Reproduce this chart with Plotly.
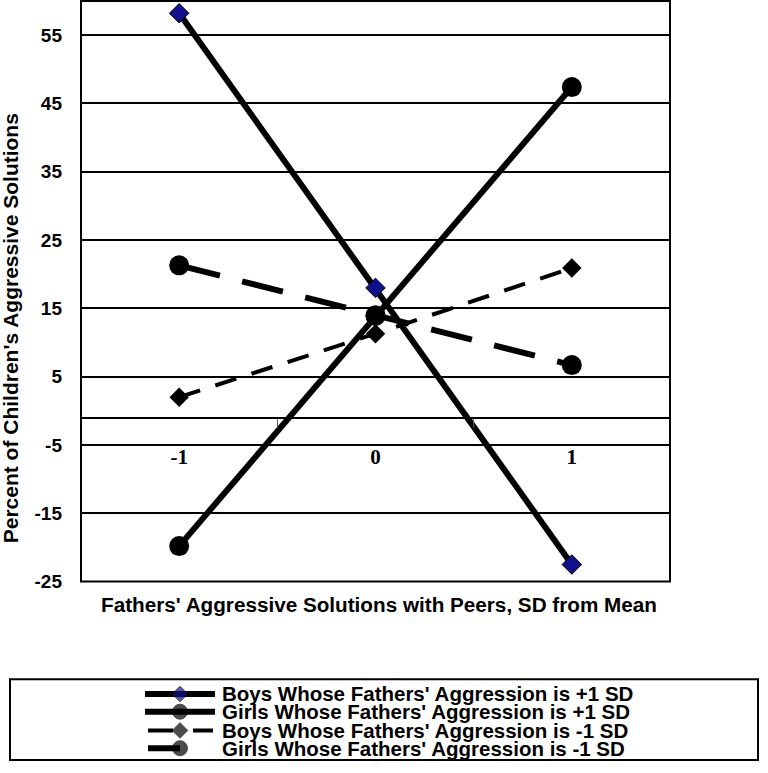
import plotly.graph_objects as go

categories = ['-1', '0', '1']
boys_plus = [58.2, 18.0, -22.5]
girls_plus = [-19.8, 13.9, 47.4]
boys_minus = [2.0, 11.3, 20.9]
girls_minus = [21.3, 14.0, 6.7]
legend_labels = [
    "Boys Whose Fathers' Aggression is +1 SD",
    "Girls Whose Fathers' Aggression is +1 SD",
    "Boys Whose Fathers' Aggression is -1 SD",
    "Girls Whose Fathers' Aggression is -1 SD",
]
y_ticks = [-25, -15, -5, 5, 15, 25, 35, 45, 55]
y_tick_text = ['-25', '-15', '-5', '5', '15', '25', '35', '45', '55']

W, H = 768, 773
SANS = "Liberation Sans, Arial, sans-serif"
SERIF = "Liberation Serif, Times New Roman, serif"
NAVY = "#10108a"

fig = go.Figure()

fig.add_trace(go.Scatter(x=categories, y=girls_minus, mode='lines+markers',
                         line=dict(color='black', width=6, dash='42px,23px'),
                         marker=dict(symbol='circle', size=20, color='black'),
                         showlegend=False, xaxis='x', yaxis='y'))
fig.add_trace(go.Scatter(x=categories, y=boys_minus, mode='lines+markers',
                         line=dict(color='black', width=4, dash='22px,16px'),
                         marker=dict(symbol='diamond', size=15, color='black'),
                         showlegend=False, xaxis='x', yaxis='y'))
fig.add_trace(go.Scatter(x=categories, y=girls_plus, mode='lines+markers',
                         line=dict(color='black', width=6),
                         marker=dict(symbol='circle', size=20, color='black'),
                         showlegend=False, xaxis='x', yaxis='y'))
fig.add_trace(go.Scatter(x=categories, y=boys_plus, mode='lines+markers',
                         line=dict(color='black', width=6),
                         marker=dict(symbol='diamond', size=15, color=NAVY,
                                     line=dict(color='black', width=1)),
                         showlegend=False, xaxis='x', yaxis='y'))

# manual legend drawn on a helper axis pair in pixel units
ly = [704, 722, 741, 759]
fig.add_trace(go.Scatter(x=[145, 215], y=[ly[0], ly[0]], mode='lines',
                         line=dict(color='black', width=6), showlegend=False,
                         xaxis='x2', yaxis='y2', hoverinfo='skip'))
fig.add_trace(go.Scatter(x=[145, 215], y=[ly[1], ly[1]], mode='lines',
                         line=dict(color='black', width=6), showlegend=False,
                         xaxis='x2', yaxis='y2', hoverinfo='skip'))
fig.add_trace(go.Scatter(x=[148, 213], y=[ly[2], ly[2]], mode='lines',
                         line=dict(color='black', width=4, dash='25px,20px'), showlegend=False,
                         xaxis='x2', yaxis='y2', hoverinfo='skip'))
fig.add_trace(go.Scatter(x=[148, 180], y=[ly[3], ly[3]], mode='lines',
                         line=dict(color='black', width=6), showlegend=False,
                         xaxis='x2', yaxis='y2', hoverinfo='skip'))
fig.add_trace(go.Scatter(x=[180, 180, 180, 180], y=ly, mode='markers',
                         marker=dict(symbol=['diamond', 'circle', 'diamond', 'circle'],
                                     size=[12, 15, 12, 15],
                                     color=[NAVY, 'black', 'black', 'black'],
                                     line=dict(color='black', width=1)),
                         showlegend=False, xaxis='x2', yaxis='y2', hoverinfo='skip'))

x0p, x1p = 81, 670
y0p, y1p = 590, 1
ymin, ymax = -25, 60
ydom = [(H - y0p) / H, (H - y1p) / H]
axis_val = -1
xpos = ydom[0] + (axis_val - ymin) / (ymax - ymin) * (ydom[1] - ydom[0])

annotations = []
for i, t in enumerate(legend_labels):
    annotations.append(dict(x=220, y=ly[i], xref='x2', yref='y2', text=t, showarrow=False,
                            xanchor='left', yanchor='middle',
                            font=dict(family=SANS, size=20.5, color='black', weight='bold')))
annotations.append(dict(x=378.5 / W, y=(H - 613) / H, xref='paper', yref='paper',
                        text="Fathers' Aggressive Solutions with Peers, SD from Mean",
                        showarrow=False, xanchor='center', yanchor='middle',
                        font=dict(family=SANS, size=20.7, color='black', weight='bold')))
annotations.append(dict(x=10 / W, y=(H - 333) / H, xref='paper', yref='paper',
                        text="Percent of Children's Aggressive Solutions", textangle=-90,
                        showarrow=False, xanchor='center', yanchor='middle',
                        font=dict(family=SANS, size=21, color='black', weight='bold')))

shapes = [
    dict(type='rect', xref='x domain', yref='y domain', x0=0, x1=1, y0=0, y1=1,
         line=dict(color='black', width=2), layer='above'),
    dict(type='rect', xref='paper', yref='paper', x0=10 / W, x1=758 / W,
         y0=(H - 771) / H, y1=(H - 689) / H, line=dict(color='black', width=2)),
]

fig.update_layout(
    width=W, height=H,
    margin=dict(l=0, r=0, t=0, b=0),
    paper_bgcolor='white', plot_bgcolor='white',
    xaxis=dict(type='category', domain=[x0p / W, x1p / W], range=[-0.5, 2.5],
               anchor='free', position=xpos, showline=True, linecolor='black', linewidth=2,
               showgrid=False, zeroline=False, ticks='outside', tickson='boundaries',
               ticklen=9, tickwidth=1, tickcolor='#555555', ticklabelstandoff=20,
               tickfont=dict(family=SERIF, size=21, color='black', weight='bold')),
    yaxis=dict(domain=ydom, range=[ymin, ymax], tickvals=y_ticks, ticktext=y_tick_text,
               showgrid=True, gridcolor='black', gridwidth=2, zeroline=False,
               showline=False, ticks='', ticklabelstandoff=18,
               tickfont=dict(family=SANS, size=19, color='black', weight='bold')),
    xaxis2=dict(domain=[0, 1], range=[0, W], visible=False, anchor='y2'),
    yaxis2=dict(domain=[0, 93 / H], range=[H, H - 93], visible=False, anchor='x2'),
    annotations=annotations,
    shapes=shapes,
    showlegend=False,
)

post = """
document.documentElement.style.margin='0px';
document.body.style.margin='0px';
document.body.style.overflow='hidden';
document.documentElement.style.overflow='hidden';
"""
fig.write_html("out.html", post_script=post, config={'displayModeBar': False})
